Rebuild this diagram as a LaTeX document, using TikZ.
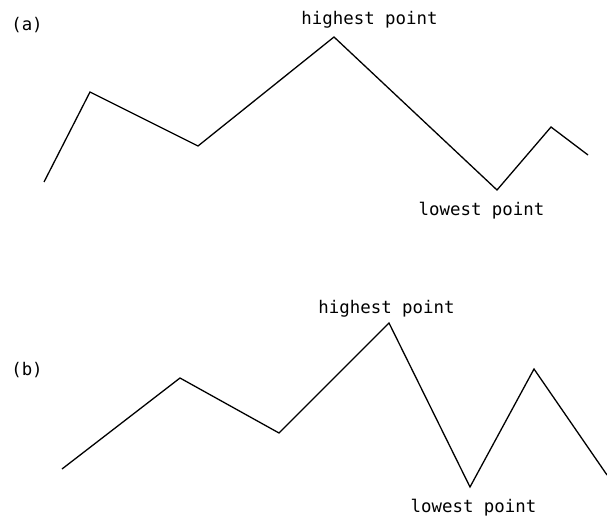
\documentclass[tikz,border=0pt]{standalone}
\usepackage{fontspec}
\setmonofont{DejaVu Sans Mono}
\begin{document}
\begin{tikzpicture}[x=1pt,y=-1pt,
  lbl/.style={font=\ttfamily\fontsize{17.4}{20}\selectfont, inner sep=0pt, anchor=base},
  trace/.style={line width=1.3pt, line join=miter}]
\useasboundingbox (0,0) rectangle (607,518);
% (a)
\node[lbl, anchor=center] (la) at (27,25) {(a)};
\coordinate (a1) at (44,182);
\coordinate (a2) at (90,92);
\coordinate (a3) at (198,146);
\coordinate (a4) at (334,37);
\coordinate (a5) at (497,190);
\coordinate (a6) at (551,127);
\coordinate (a7) at (588,155);
\draw[trace] (a1) -- (a2) -- (a3) -- (a4) -- (a5) -- (a6) -- (a7);
\node[lbl] (ha) at (369.5,25) {highest point};
\node[lbl] (lwa) at (481.5,215.5) {lowest point};
% (b)
\node[lbl, anchor=center] (lb) at (27,370) {(b)};
\coordinate (b1) at (62,469);
\coordinate (b2) at (180,378);
\coordinate (b3) at (279,433);
\coordinate (b4) at (389,323);
\coordinate (b5) at (470,487);
\coordinate (b6) at (534,369);
\coordinate (b7) at (607,475);
\draw[trace] (b1) -- (b2) -- (b3) -- (b4) -- (b5) -- (b6) -- (b7);
\node[lbl] (hb) at (386.5,313) {highest point};
\node[lbl] (lwb) at (473.5,512.5) {lowest point};
\end{tikzpicture}
\end{document}
